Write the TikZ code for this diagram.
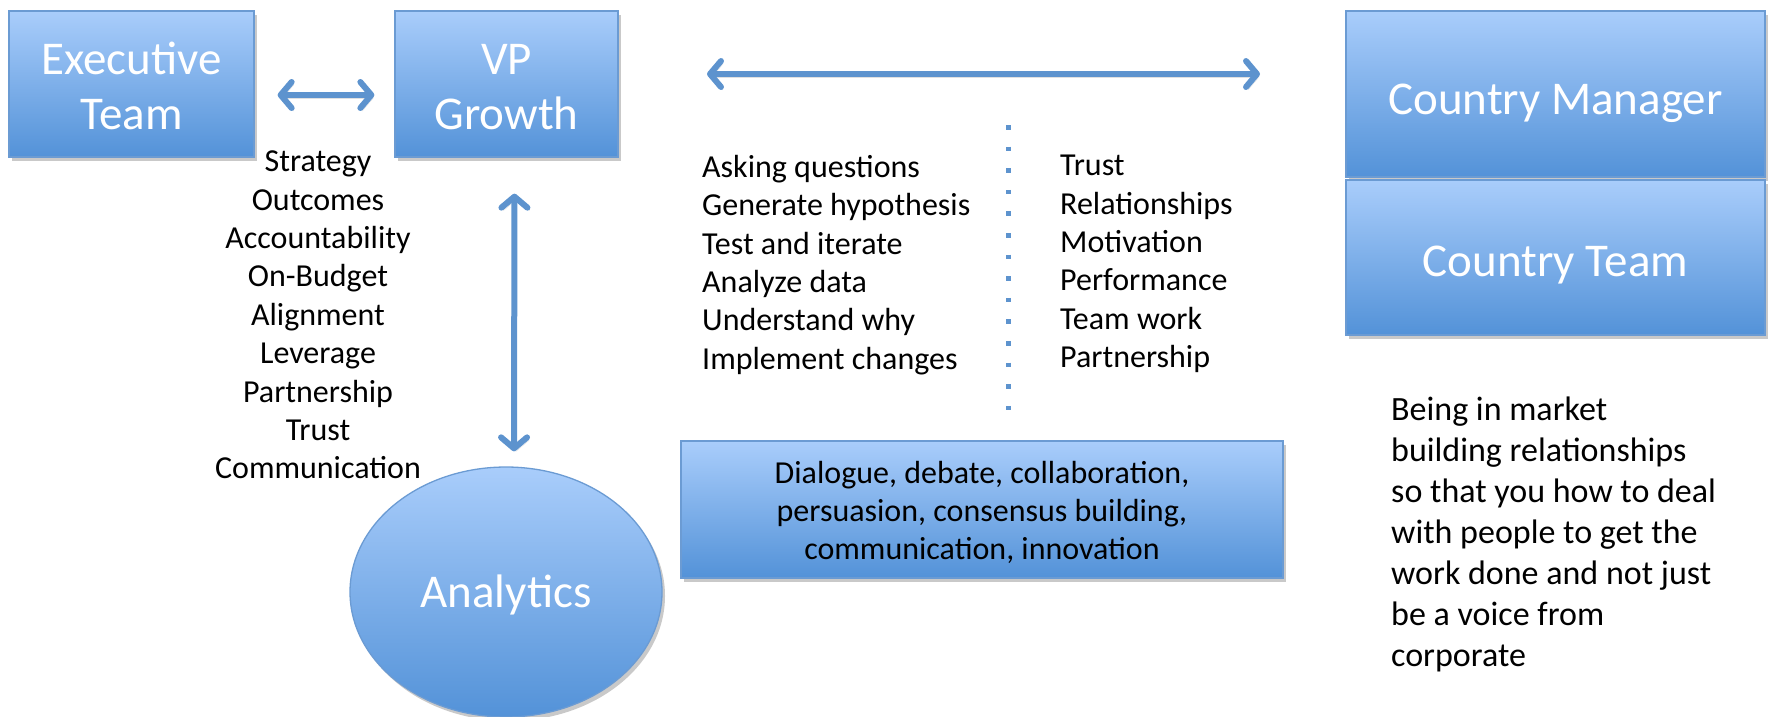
\documentclass[tikz,border=0pt]{standalone}
\usepackage{fontspec}
\setmainfont{Carlito}
\usetikzlibrary{arrows.meta,shadows,shapes.geometric}

\definecolor{boxtop}{HTML}{A9CDFB}
\definecolor{boxbot}{HTML}{5392D8}
\definecolor{boxline}{HTML}{6B9BD3}
\definecolor{arrowblue}{HTML}{5D93CE}

% lower a centred block of lines without changing its reported size
\newcommand{\lowerblock}[2]{\raisebox{-#1}[\height][\depth]{\begin{tabular}{@{}c@{}}#2\end{tabular}}}

\tikzset{
  softshadow/.style={drop shadow={shadow xshift=3pt, shadow yshift=-4pt, opacity=0.3, fill=black!70}},
  bluebox/.style={draw=boxline, line width=1.3pt, top color=boxtop, bottom color=boxbot,
    inner sep=0pt, align=center, softshadow},
  titlebox/.style={bluebox, text=white, font=\fontsize{47}{55}\selectfont},
  listtext/.style={inner sep=0pt, font=\fontsize{32}{38.4}\selectfont},
  conn/.style={draw=arrowblue, line width=6pt,
    {Straight Barb[length=11pt, width=26pt, line cap=round, line join=round]}-{Straight Barb[length=11pt, width=26pt, line cap=round, line join=round]},
    preaction={draw=black, opacity=0.12, transform canvas={xshift=2pt, yshift=-3pt}}},
  dotline/.style={draw=arrowblue, line width=5pt, dash pattern=on 4.5pt off 17.1pt}
}

\begin{document}
\begin{tikzpicture}[x=1pt, y=-1pt]
  \useasboundingbox (0,0) rectangle (1769,716);

  % boxes
  \node[titlebox, minimum width=245pt, minimum height=146pt] (exec) at (131.5,84) {\lowerblock{6.5pt}{Executive\\Team}};
  \node[titlebox, minimum width=223pt, minimum height=146pt] (vp) at (506.5,84) {\lowerblock{6.5pt}{VP\\Growth}};
  \node[titlebox, minimum width=419pt, minimum height=166pt] (cm) at (1555.5,94) {\lowerblock{9pt}{Country Manager}};
  \node[titlebox, minimum width=419pt, minimum height=155pt] (ct) at (1555.5,257.5) {\lowerblock{8pt}{Country Team}};
  \node[titlebox, ellipse, minimum width=312pt, minimum height=250pt] (analytics) at (506,592) {\lowerblock{4.5pt}{Analytics}};
  \node[bluebox, text=black, font=\fontsize{32}{38}\selectfont, minimum width=602pt, minimum height=137pt]
    (dialogue) at (982,509.5) {\lowerblock{4.5pt}{Dialogue, debate, collaboration,\\persuasion, consensus building,\\communication, innovation}};

  % connectors
  \draw[conn, shorten <=23pt, shorten >=20pt] ([yshift=-11pt]exec.east) -- ([yshift=-11pt]vp.west);
  \draw[conn, shorten <=36pt, shorten >=15pt] ([xshift=8pt]vp.south) -- ([xshift=8pt]analytics.north);
  \coordinate (farleft) at (707,74);
  \coordinate (farright) at (1260,74);
  \draw[conn] (farleft) -- (farright);

  % dotted divider
  \coordinate (dtop) at (1008,125);
  \coordinate (dbot) at (1008,410);
  \draw[dotline] (dtop) -- (dbot);

  % text lists
  \node[listtext, align=center] (values) at (318,315)
    {Strategy\\Outcomes\\Accountability\\On-Budget\\Alignment\\Leverage\\Partnership\\Trust\\Communication};
  \node[listtext, align=left, anchor=west] (skills) at (702,265)
    {Asking questions\\Generate hypothesis\\Test and iterate\\Analyze data\\Understand why\\Implement changes};
  \node[listtext, align=left, anchor=west] (people) at (1060,264)
    {Trust\\Relationships\\Motivation\\Performance\\Team work\\Partnership};
  \node[inner sep=0pt, align=left, anchor=west, font=\fontsize{34}{41}\selectfont] (market) at (1391,534)
    {Being in market\\building relationships\\so that you how to deal\\with people to get the\\work done and not just\\be a voice from\\corporate};
\end{tikzpicture}
\end{document}
